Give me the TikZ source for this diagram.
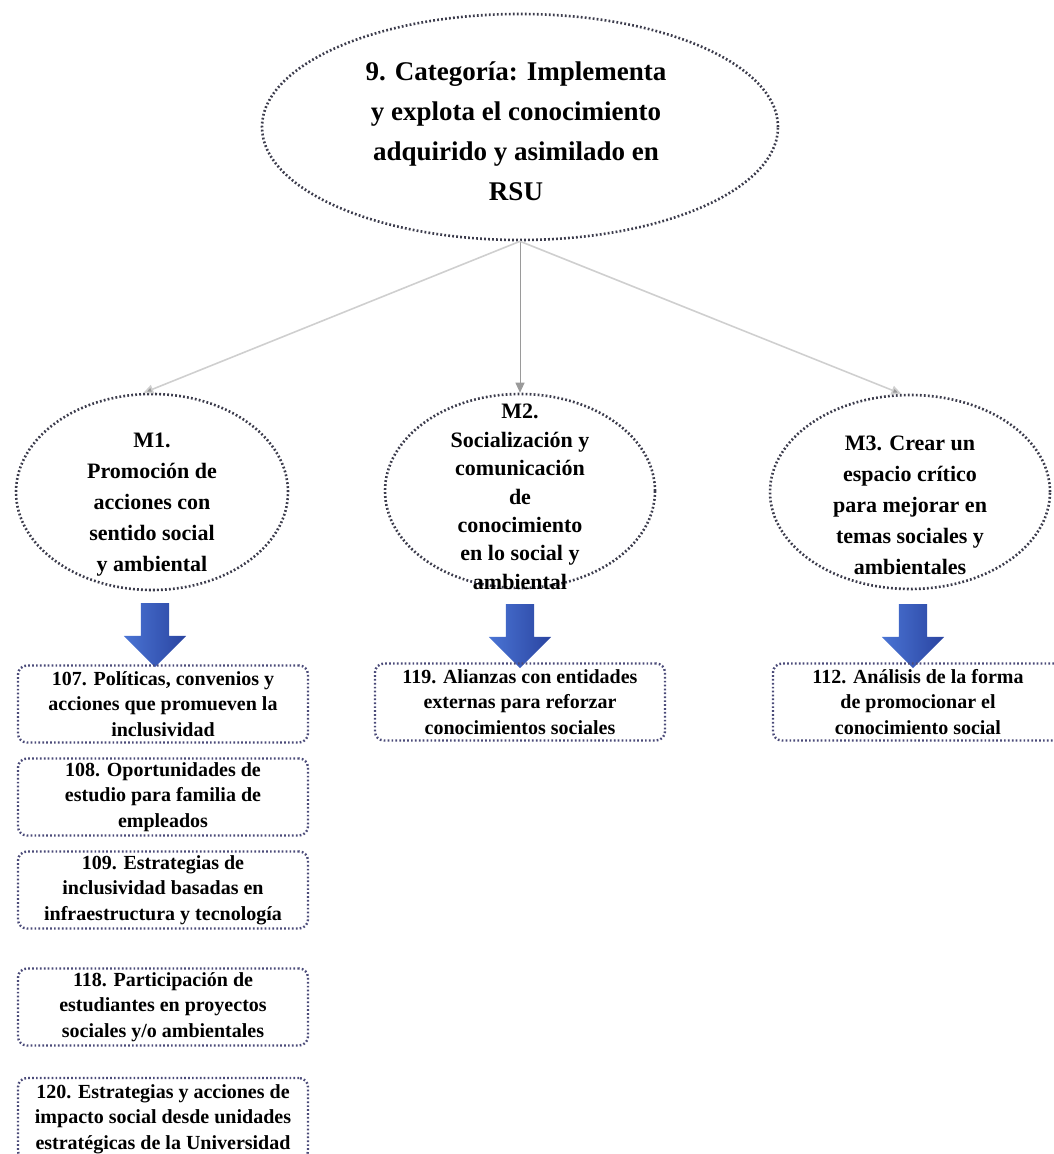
\documentclass[tikz,border=0pt]{standalone}
\usepackage{fontspec}
\setmainfont{Liberation Serif}
\usetikzlibrary{shapes.geometric,shapes.arrows,arrows.meta}

\definecolor{ovaledge}{HTML}{3C3C4C}
\definecolor{boxedge}{HTML}{4A4A78}
\definecolor{linkgray}{HTML}{CFCFCF}
\definecolor{linkmid}{HTML}{9A9A9A}
\definecolor{blueA}{HTML}{4A74D4}
\definecolor{blueB}{HTML}{2A44A0}

\tikzset{
  oval/.style={ellipse, draw=ovaledge, line width=2.6pt,
    dash pattern=on 1.8pt off 2.2pt, inner sep=0pt},
  ovaltext/.style={align=center, font=\bfseries\fontsize{22}{31}\selectfont, inner sep=0pt},
  toptext/.style={align=center, font=\bfseries\fontsize{27}{40}\selectfont, inner sep=0pt},
  itembox/.style={draw=boxedge, line width=2.4pt, dash pattern=on 1.7pt off 2.2pt,
    rounded corners=9pt, minimum width=290pt, minimum height=77pt,
    align=center, inner sep=0pt, font=\bfseries\fontsize{20}{25.5}\selectfont},
  link/.style={draw=linkgray, line width=1.6pt,
    -{Triangle[length=10pt,width=9pt,fill=linkmid]}},
  blockarrow/.style={single arrow, draw=none, inner sep=14pt,
    single arrow head extend=17pt, single arrow tip angle=90,
    minimum height=64pt, shape border rotate=270,
    left color=blueA, right color=blueB}
}

\begin{document}
\begin{tikzpicture}[x=1pt,y=-1pt]
\useasboundingbox (0,0) rectangle (1053,1154);

% main category
\node[oval, minimum width=516pt, minimum height=226pt] (cat) at (520,127) {};
\node[toptext] (cattext) at (516,131) {9. Categoría: Implementa\\y explota el conocimiento\\adquirido y asimilado en\\RSU};

% sub-categories
\node[oval, minimum width=272pt, minimum height=196pt] (m1) at (152,492) {};
\node[ovaltext] (m1text) at (152,505) {M1.\\Promoción de\\acciones con\\sentido social\\y ambiental};

\node[oval, minimum width=270pt, minimum height=194pt] (m2) at (520,491) {};
\node[ovaltext, font=\bfseries\fontsize{22}{28.4}\selectfont] (m2text) at (520,497) {M2.\\Socialización y\\comunicación\\de\\conocimiento\\en lo social y\\ambiental};

\node[oval, minimum width=280pt, minimum height=194pt] (m3) at (910,492) {};
\node[ovaltext] (m3text) at (910,505) {M3. Crear un\\espacio crítico\\para mejorar en\\temas sociales y\\ambientales};

% connectors
\draw[link] (cat.south) -- (m1.95);
\draw[link, draw=linkmid, line width=1pt] (cat.south) -- (m2.north);
\draw[link] (cat.south) -- (m3.95);

% block arrows
\node[blockarrow] (a1) at (155,628) {};
\node[blockarrow] (a2) at (520,629) {};
\node[blockarrow] (a3) at (913,629) {};

% items of M1
\node[itembox] (b107) at (163,704) {107. Políticas, convenios y\\acciones que promueven la\\inclusividad};
\node[itembox] (b108) at (163,797) {108. Oportunidades de\\estudio para familia de\\empleados};
\node[itembox] (b109) at (163,890) {109. Estrategias de\\inclusividad basadas en\\infraestructura y tecnología};
\node[itembox] (b118) at (163,1007) {118. Participación de\\estudiantes en proyectos\\sociales y/o ambientales};
\node[itembox, minimum height=82pt] (b120) at (163,1119) {120. Estrategias y acciones de\\impacto social desde unidades\\estratégicas de la Universidad};

% items of M2 and M3
\node[itembox] (b119) at (520,702) {119. Alianzas con entidades\\externas para reforzar\\conocimientos sociales};
\node[itembox] (b112) at (918,702) {112. Análisis de la forma\\de promocionar el\\conocimiento social};
\end{tikzpicture}
\end{document}
